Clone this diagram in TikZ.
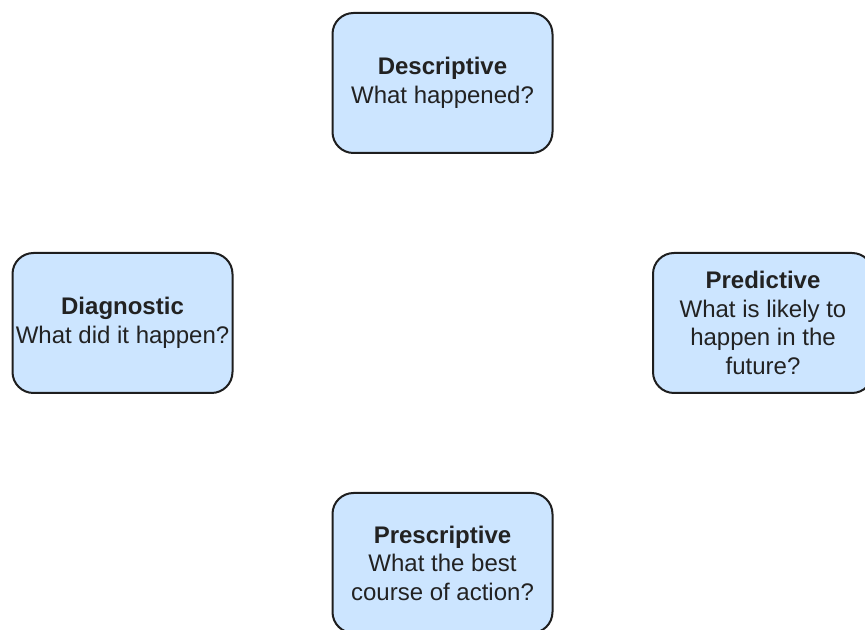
\documentclass[tikz,border=0pt]{standalone}
\usepackage{fontspec}
\setmainfont{Liberation Sans}
\begin{document}
\begin{tikzpicture}[x=0.75pt,y=-0.75pt,
  kind/.style={draw=boxline, fill=boxfill, line width=1.5pt, rounded corners=15.75pt,
    minimum width=165pt, minimum height=105pt, inner sep=0pt,
    align=center, text=textcol,
    font=\fontsize{18pt}{21.4pt}\selectfont},
  ]
  \definecolor{boxfill}{HTML}{CCE5FF}
  \definecolor{boxline}{HTML}{1E1E1E}
  \definecolor{textcol}{HTML}{222222}
  \useasboundingbox (0,0) rectangle (865,630);
  \clip (0,0) rectangle (865,630);

  % the four kinds of analytics
  \node[kind] (desc) at (442.5,83) {\textbf{Descriptive}\\What happened?};
  \node[kind] (diag) at (122.5,323) {\textbf{Diagnostic}\\What did it happen?};
  \node[kind] (pred) at (763,323) {\textbf{Predictive}\\What is likely to\\happen in the\\future?};
  \node[kind] (pres) at (442.5,563) {\textbf{Prescriptive}\\What the best\\course of action?};
\end{tikzpicture}
\end{document}
